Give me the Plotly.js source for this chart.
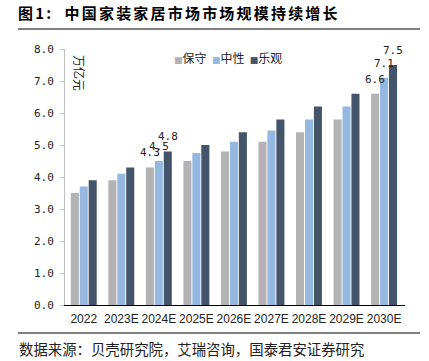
<!DOCTYPE html>
<html><head><meta charset="utf-8">
<script src="https://cdn.plot.ly/plotly-3.0.1.min.js"></script>
<style>
html,body{margin:0;padding:0;background:#fff;}
#chart{width:429px;height:361px;}
.gtitle{letter-spacing:2.2px;}
</style></head>
<body><div id="chart"></div>
<script>
const years = ['2022','2023E','2024E','2025E','2026E','2027E','2028E','2029E','2030E'];
const seriesNames = ['保守','中性','乐观'];
const conservative = [3.5,3.9,4.3,4.5,4.8,5.1,5.4,5.8,6.6];
const neutral = [3.7,4.1,4.5,4.75,5.1,5.45,5.8,6.2,7.1];
const optimistic = [3.9,4.3,4.8,5.0,5.4,5.8,6.2,6.6,7.5];
const labelledYears = ['2024E','2030E'];
const yTickVals = [0,1,2,3,4,5,6,7,8];
const yTickText = ['0.0','1.0','2.0','3.0','4.0','5.0','6.0','7.0','8.0'];
const unitLabel = '万亿元';
const titleText = '图1:  中国家装家居市场市场规模持续增长';
const sourceText = '数据来源：贝壳研究院，艾瑞咨询，国泰君安证券研究';

const colors = ['#B3B3B3','#95B8E0','#44546A'];
const series = [conservative, neutral, optimistic];
const bargap = 0.285, groupgap = 0.1;

const traces = series.map((vals, j) => ({
  type: 'bar', x: years, y: vals, name: seriesNames[j],
  marker: {color: colors[j]}, showlegend: false, hoverinfo: 'skip'
}));

// plot area geometry (px) for paper-coordinate decorations
const L = 65, R = 24, T = 49, B = 56, W = 429, H = 361;
const pw = W - L - R, ph = H - T - B;
const px = x => (x - L) / pw;
const py = y => (H - B - y) / ph;

const annotations = [];
const slot = (1 - bargap) / 3;
labelledYears.forEach(yr => {
  const i = years.indexOf(yr);
  series.forEach((vals, j) => {
    annotations.push({
      xref: 'x', yref: 'y', x: i + (j - 1) * slot, y: vals[i],
      text: vals[i].toFixed(1), showarrow: false, yanchor: 'bottom', xanchor: 'center',
      yshift: 6, font: {family: 'DejaVu Sans Mono', size: 11, color: '#222'}
    });
  });
});
// legend
annotations.push({
  xref: 'paper', yref: 'paper', x: px(172), y: py(57), xanchor: 'left', yanchor: 'middle',
  showarrow: false,
  text: seriesNames.map((n, j) => `<span style="color:${colors[j]};font-size:9px;font-family:DejaVu Sans">■</span>${n}`).join('  '),
  font: {family: 'Noto Sans CJK SC', size: 12, color: '#222'}
});
// unit
annotations.push({
  xref: 'paper', yref: 'paper', x: px(80), y: py(73), xanchor: 'center', yanchor: 'middle',
  showarrow: false, textangle: 90, text: unitLabel,
  font: {family: 'Noto Sans CJK SC', size: 12, color: '#222'}
});
// source
annotations.push({
  xref: 'paper', yref: 'paper', x: px(17), y: py(348), xanchor: 'left', yanchor: 'middle',
  showarrow: false, text: sourceText,
  font: {family: 'Noto Sans CJK SC', size: 14.4, color: '#222'}
});

const shapes = [
  {type: 'line', xref: 'paper', yref: 'paper', x0: px(18), x1: px(420), y0: py(29), y1: py(29), line: {color: '#000', width: 1}},
  {type: 'line', xref: 'paper', yref: 'paper', x0: px(18), x1: px(420), y0: py(333), y1: py(333), line: {color: '#000', width: 1}}
];

const layout = {
  width: W, height: H,
  margin: {l: L, r: R, t: T, b: B},
  paper_bgcolor: '#fff', plot_bgcolor: '#fff',
  barmode: 'group', bargap: bargap, bargroupgap: groupgap,
  title: {
    text: '<b>' + titleText + '</b>', x: 18 / W, xanchor: 'left', xref: 'container',
    y: 1 - 14 / H, yanchor: 'middle', yref: 'container',
    font: {family: 'Noto Sans CJK SC', size: 15, color: '#000'}
  },
  xaxis: {
    type: 'category', showline: true, linecolor: '#000', linewidth: 1,
    ticks: '', showgrid: false, zeroline: false,
    tickfont: {family: 'Liberation Sans', size: 12, color: '#222'},
    ticklabelstandoff: 3
  },
  yaxis: {
    range: [0, 8], tickvals: yTickVals, ticktext: yTickText,
    showline: true, linecolor: '#BFBFBF', linewidth: 1,
    ticks: 'outside', ticklen: 4, tickcolor: '#BFBFBF',
    showgrid: false, zeroline: false,
    tickfont: {family: 'DejaVu Sans Mono', size: 11, color: '#222'},
    ticklabelstandoff: 4
  },
  annotations: annotations, shapes: shapes, showlegend: false
};

Plotly.newPlot('chart', traces, layout, {staticPlot: true, displayModeBar: false});
</script>
</body></html>
